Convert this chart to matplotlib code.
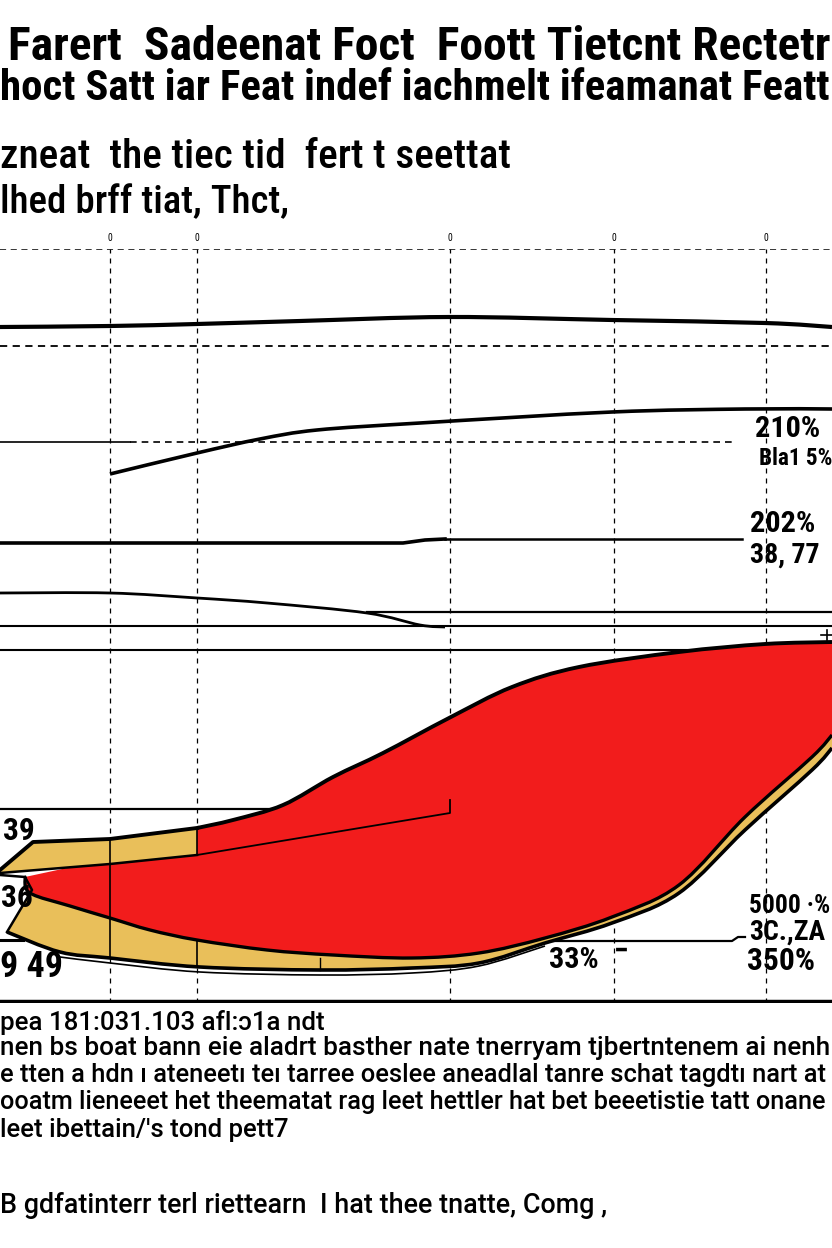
import matplotlib
matplotlib.use("Agg")
import matplotlib.pyplot as plt
from matplotlib.path import Path
from matplotlib.patches import PathPatch

# ---------------- data ----------------
grid_x = [110, 197, 450, 614, 766]
tick_labels = ["0", "0", "0", "0", "0"]

line1_x = [0, 110, 197, 300, 449, 612, 765, 832]
line1_y = [327, 326, 324, 321, 317, 320, 323, 327]

line2_x = [110, 197, 260, 317, 420, 612, 745, 832]
line2_y = [474, 453, 439, 430, 423, 412, 409, 409]

line3_x = [0, 403, 425, 445]
line3_y = [543, 543, 540, 539]
line3b_x = [445, 742]
line3b_y = [539, 539]

line4_x = [0, 110, 197, 267, 367, 420, 445]
line4_y = [593, 593, 598, 603, 613, 625, 627]

red_top_x = [197, 233, 283, 333, 383, 449, 512, 579, 679, 765, 832]
red_top_y = [828, 820, 805, 777, 753, 718, 687, 667, 652, 644, 642]
red_bot_x = [25, 30, 70, 110, 150, 197, 267, 333, 412, 479, 545, 612, 679, 745, 812, 832]
red_bot_y = [877, 893, 906, 918, 930, 940, 950, 955, 958, 953, 938, 917, 885, 817, 757, 735]

gold_bot_x = [7, 60, 110, 200, 320, 412, 479, 545, 612, 679, 745, 812, 832]
gold_bot_y = [932, 952, 958, 967, 970, 968, 963, 943, 923, 893, 830, 770, 748]
gold2_x = [60, 110, 200, 320, 412, 479, 545]
gold2_y = [957, 963, 972, 975, 973, 966, 946]
gold_left_x = [7, 32, 25]
gold_left_y = [932, 890, 877]

patch_top_x = [0, 33, 110, 197]
patch_top_y = [870, 842, 839, 828]
patch_bot_x = [197, 110, 0]
patch_bot_y = [855, 864, 873]

inner_x = [197, 450, 450]
inner_y = [855, 813, 800]

hlines_full = [626, 650]
hline612_x = [367, 832]
hline809_x = [0, 283]
arrow_x = [110, 732, 738, 745]
arrow_y = [941, 941, 937, 937]

chart_labels = [
    (755, 437, 74, 20, "210%"), (759, 465, 73, 19, "Bla1 5%"),
    (750, 532, 78, 20, "202%"), (750, 563, 70, 19, "38, 77"),
    (3, 840, 32, 21, "39"), (1, 907, 32, 21, "36"), (0, 977, 63, 24, "9 49"),
    (549, 968, 50, 22, "33%"), (614, 960, 15, 20, "\u2212"),
    (749, 913, 81, 24, "5000 \u00b7%"), (749, 940, 76, 19, "3C.,ZA"), (747, 970, 68, 21, "350%"),
]

title_lines = [
    ("Farert  Sadeenat Foct  Foott Tietcnt Rectetr", 8, 60, 822, 38, "bold"),
    ("hoct Satt iar Feat indef iachmelt ifeamanat Featt", 0, 100, 828, 31, "bold"),
    ("zneat  the tiec tid  fert t seettat", 0, 168, 510, 31, "medium"),
    ("lhed brff tiat, Thct,", 0, 213, 290, 28, "medium"),
]
bottom_lines = [
    ("pea 181:031.103 afl:\u02541a ndt", 0, 1030, 325, 19),
    ("nen bs boat bann eie aladrt basther nate tnerryam tjbertntenem ai nenh", 0, 1055, 828, 19),
    ("e tten a hdn \u0131 ateneet\u0131 te\u0131 tarree oeslee aneadlal tanre schat tagdt\u0131 nart at", 0, 1082, 828, 19),
    ("ooatm lieneeet het theematat rag leet hettler hat bet beeetistie tatt onane", 0, 1109, 828, 19),
    ("leet ibettain/'s tond pett7", 0, 1137, 290, 19),
    ("B gdfatinterr terl riettearn  I hat thee tnatte, Comg ,", 0, 1213, 605, 24),
]

# ---------------- style ----------------
plt.rcParams["font.family"] = ["Roboto Condensed", "DejaVu Sans"]
BODY_FAMILY = ["Roboto", "DejaVu Sans"]

W, H = 832, 1248
fig = plt.figure(figsize=(W / 100, H / 100), dpi=100)
fig.patch.set_facecolor("white")

ax = fig.add_axes([0, 1 - 1003 / H, 1, (1003 - 249) / H])
ax.set_xlim(0, 832)
ax.set_ylim(1003, 249)
for s in ax.spines.values():
    s.set_visible(False)
ax.set_yticks([])
ax.xaxis.tick_top()
ax.set_xticks(grid_x)
ax.set_xticklabels(tick_labels, fontsize=7)
ax.tick_params(axis="x", length=0, pad=4)

RED = "#F21C1C"
GOLD = "#E9BF5A"
K = "black"


def curve_segs(xs, ys):
    """Smooth (Catmull-Rom as cubic Bezier) vertices through the given points."""
    pts = list(zip(xs, ys))
    n = len(pts)
    verts = []
    for i in range(n - 1):
        p0 = pts[i - 1] if i > 0 else pts[i]
        p1 = pts[i]
        p2 = pts[i + 1]
        p3 = pts[i + 2] if i + 2 < n else pts[i + 1]
        c1 = (p1[0] + (p2[0] - p0[0]) / 6, p1[1] + (p2[1] - p0[1]) / 6)
        c2 = (p2[0] - (p3[0] - p1[0]) / 6, p2[1] - (p3[1] - p1[1]) / 6)
        verts += [c1, c2, p2]
    return pts[0], verts


def smooth_line(xs, ys, **kw):
    start, v = curve_segs(xs, ys)
    path = Path([start] + v, [Path.MOVETO] + [Path.CURVE4] * len(v))
    ax.add_patch(PathPatch(path, fill=False, capstyle="butt", **kw))


def smooth_fill(edges, color, z):
    verts, codes = [], []
    for k, (xs, ys, smooth) in enumerate(edges):
        code0 = Path.MOVETO if k == 0 else Path.LINETO
        if smooth:
            start, v = curve_segs(xs, ys)
            verts += [start] + v
            codes += [code0] + [Path.CURVE4] * len(v)
        else:
            pts = list(zip(xs, ys))
            verts += pts
            codes += [code0] + [Path.LINETO] * (len(pts) - 1)
    verts.append(verts[0])
    codes.append(Path.CLOSEPOLY)
    ax.add_patch(PathPatch(Path(verts, codes), facecolor=color, lw=0, zorder=z))


# grid
for gx in grid_x:
    ax.axvline(gx, color=K, lw=0.9, ls=(0, (4, 4)), zorder=1)
ax.axhline(249, color=K, lw=1.1, ls=(0, (4, 3)), zorder=1)
ax.axhline(346, color=K, lw=1.3, ls=(0, (4, 3)), zorder=1)

# upper lines
smooth_line(line1_x, line1_y, color=K, lw=3.0, zorder=3)
smooth_line(line2_x, line2_y, color=K, lw=2.6, zorder=3)
ax.plot([0, 130], [442, 442], color=K, lw=1.2, zorder=2)
ax.plot([130, 735], [442, 442], color=K, lw=1.2, ls=(0, (4, 3)), zorder=2)
ax.plot(line3_x, line3_y, color=K, lw=2.6, zorder=3)
ax.plot(line3b_x, line3b_y, color=K, lw=1.8, zorder=3)
smooth_line(line4_x, line4_y, color=K, lw=2.0, zorder=3)
ax.plot(hline612_x, [612, 612], color=K, lw=1.6, zorder=2)
for hy in hlines_full:
    ax.plot([0, 832], [hy, hy], color=K, lw=1.5, zorder=2)
ax.plot(hline809_x, [809, 809], color=K, lw=1.6, zorder=2)
ax.plot(arrow_x, arrow_y, color=K, lw=1.6, zorder=3)

# gold lower band
smooth_fill([(red_bot_x, red_bot_y, True),
             (gold_bot_x[::-1], gold_bot_y[::-1], True),
             (gold_left_x[1:], gold_left_y[1:], False)], GOLD, 4)

# red shape
smooth_fill([([25, 197], [877, 840], False),
             (red_top_x, red_top_y, True),
             (red_bot_x[::-1], red_bot_y[::-1], True)], RED, 5)

# gold top patch
ax.fill(patch_top_x + patch_bot_x, patch_top_y + patch_bot_y, color=GOLD, lw=0, zorder=6)

# outlines
smooth_line(red_top_x, red_top_y, color=K, lw=2.8, zorder=7)
smooth_line(red_bot_x, red_bot_y, color=K, lw=2.4, zorder=7)
smooth_line(gold_bot_x, gold_bot_y, color=K, lw=2.6, zorder=7)
smooth_line(gold2_x, gold2_y, color=K, lw=1.2, zorder=7)
ax.plot(gold_left_x, gold_left_y, color=K, lw=1.8, zorder=7)
ax.plot([0, 25], [875, 877], color=K, lw=1.8, zorder=7)
ax.plot(patch_top_x, patch_top_y, color=K, lw=2.8, zorder=7)
ax.plot(patch_bot_x, patch_bot_y, color=K, lw=1.8, zorder=7)
ax.plot(inner_x, inner_y, color=K, lw=1.3, zorder=7)
ax.plot([110, 110], [839, 958], color=K, lw=1.2, zorder=7)
ax.plot([197, 197], [828, 855], color=K, lw=1.2, zorder=7)
ax.plot([197, 197], [940, 967], color=K, lw=1.2, zorder=7)
ax.plot([320, 320], [958, 970], color=K, lw=1.0, zorder=7)
ax.plot([0, 23], [940, 940], color=K, lw=2.2, zorder=8)
ax.plot([827, 827], [630, 640], color=K, lw=1.2, zorder=8)
ax.plot([821, 832], [635, 635], color=K, lw=1.2, zorder=8)

# bottom axis line
ax.axhline(1002, color=K, lw=3.2, zorder=8)

# ---------------- texts fitted to widths ----------------
fig.canvas.draw()
renderer = fig.canvas.get_renderer()


def fit_text(s, x, y, target_w, max_fs, weight, grow=1.12, family=None):
    kw = {"family": family} if family else {}
    t = fig.text(x / W, 1 - y / H, s, fontsize=max_fs, fontweight=weight,
                 va="baseline", ha="left", color=K, zorder=10, **kw)
    w = t.get_window_extent(renderer).width
    t.set_fontsize(min(max_fs * grow, max_fs * target_w / w))
    return t


for x, y, tw, px, s in chart_labels:
    fit_text(s, x, y, tw, px * 0.72 * 1.35, "bold")
for s, x, y, tw, fs, wt in title_lines:
    fit_text(s, x, y, tw, fs, wt)
for s, x, y, tw, fs in bottom_lines:
    fit_text(s, x, y, tw, fs, "medium", grow=1.0, family=BODY_FAMILY)

fig.savefig("out.png", dpi=100, facecolor="white")
